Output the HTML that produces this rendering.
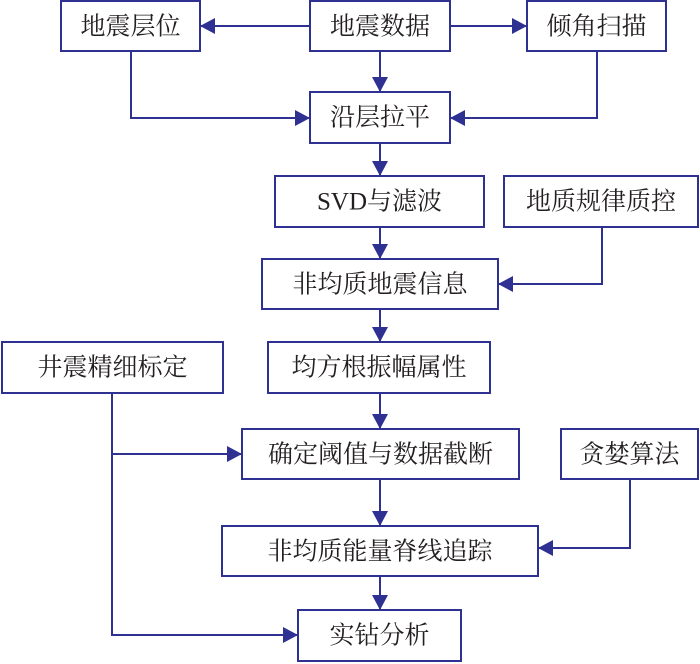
<!DOCTYPE html>
<html><head><meta charset="utf-8"><style>
html,body{margin:0;padding:0;background:#fff}
</style></head><body>
<svg width="700" height="664" xmlns="http://www.w3.org/2000/svg" style="display:block">
<defs>
<marker id="a" markerWidth="15" markerHeight="16" refX="14" refY="8" orient="auto" markerUnits="userSpaceOnUse">
<path d="M0,0 L15,8 L0,16 Z" fill="#2e3192"/>
</marker>
</defs>
<g fill="#fff" stroke="#2e3192" stroke-width="2">
<rect x="61" y="1" width="139" height="50"/>
<rect x="310" y="1" width="140" height="50"/>
<rect x="527" y="1" width="139" height="50"/>
<rect x="310" y="92" width="140" height="51"/>
<rect x="275" y="176" width="209" height="51"/>
<rect x="504" y="176" width="194" height="51"/>
<rect x="262" y="259" width="236" height="50"/>
<rect x="2" y="342" width="221" height="51"/>
<rect x="268" y="342" width="222" height="51"/>
<rect x="242" y="429" width="277" height="50"/>
<rect x="561" y="429" width="137" height="50"/>
<rect x="222" y="526" width="316" height="50"/>
<rect x="298" y="610" width="163" height="51"/>
</g>
<g fill="none" stroke="#2e3192" stroke-width="2" marker-end="url(#a)">
<line x1="310" y1="26" x2="201" y2="26"/>
<line x1="450" y1="26" x2="526" y2="26"/>
<line x1="380" y1="51" x2="380" y2="91"/>
<polyline points="131,51 131,118 309,118"/>
<polyline points="597,51 597,118 451,118"/>
<line x1="380" y1="143" x2="380" y2="175"/>
<line x1="380" y1="227" x2="380" y2="258"/>
<polyline points="602,227 602,284 499,284"/>
<line x1="380" y1="309" x2="380" y2="341"/>
<line x1="380" y1="393" x2="380" y2="428"/>
<polyline points="112,393 112,635 297,635"/>
<line x1="112" y1="454" x2="241" y2="454"/>
<line x1="380" y1="479" x2="380" y2="525"/>
<polyline points="630,479 630,548 539,548"/>
<line x1="380" y1="576" x2="380" y2="609"/>
</g>
<g font-family="Liberation Serif, Noto Serif CJK SC, serif" font-size="25" fill="#231f20" text-anchor="middle" dominant-baseline="central">
<text x="130.5" y="27">地震层位</text>
<text x="380" y="27">地震数据</text>
<text x="596.5" y="27">倾角扫描</text>
<text x="380" y="118">沿层拉平</text>
<text x="379.5" y="202">SVD与滤波</text>
<text x="601" y="202">地质规律质控</text>
<text x="380" y="285">非均质地震信息</text>
<text x="112.5" y="368">井震精细标定</text>
<text x="379" y="368">均方根振幅属性</text>
<text x="380.5" y="455">确定阈值与数据截断</text>
<text x="629.5" y="455">贪婪算法</text>
<text x="380" y="552">非均质能量脊线追踪</text>
<text x="379.5" y="636">实钻分析</text>
</g>
</svg>
</body></html>
